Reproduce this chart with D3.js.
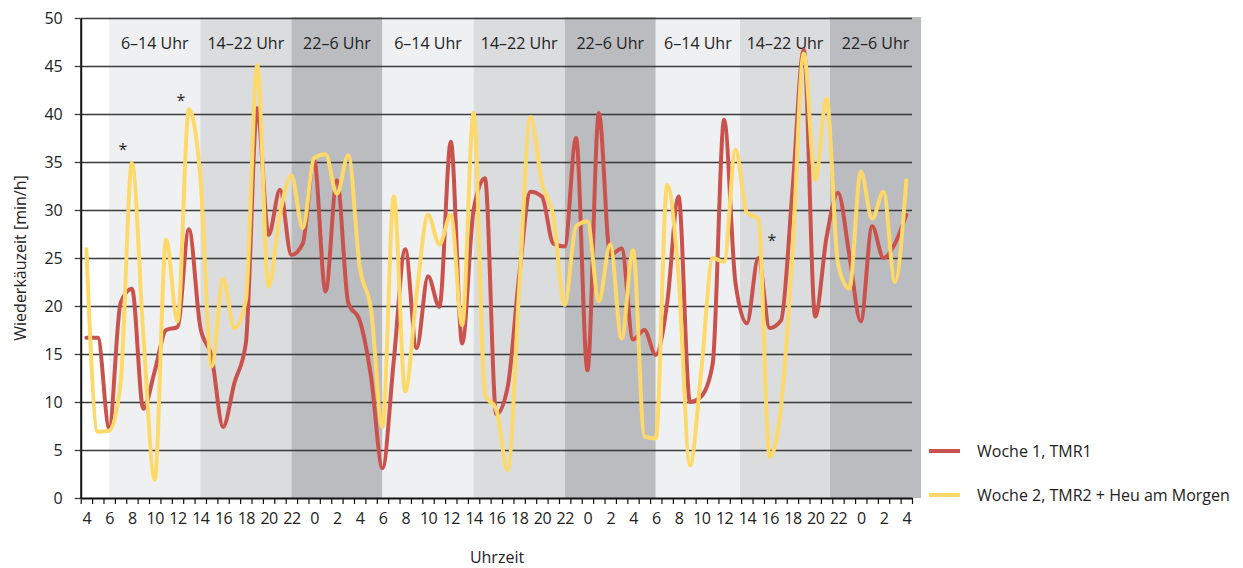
<!DOCTYPE html>
<html lang="de">
<head>
  <meta charset="UTF-8">
  <title>Wiederkäuzeit</title>
  <script src="https://d3js.org/d3.v7.min.js"></script>
  <style>
    body { margin: 0; background: #fff; font-family: "Open Sans", sans-serif; }
    .tick text { font-family: "Open Sans", sans-serif; fill: #222; }
    .line { fill: none; stroke-width: 4px; stroke-linejoin: round; stroke-linecap: round; }
  </style>
</head>
<body>
  <svg id="chart" width="1243" height="568"></svg>
  <script>
    // hour of day for every category (hourly, 3 days, 4 Uhr to 4 Uhr)
    const hours = [4,5,6,7,8,9,10,11,12,13,14,15,16,17,18,19,20,21,22,23,0,1,2,3,
                   4,5,6,7,8,9,10,11,12,13,14,15,16,17,18,19,20,21,22,23,0,1,2,3,
                   4,5,6,7,8,9,10,11,12,13,14,15,16,17,18,19,20,21,22,23,0,1,2,3,4];

    const woche1 = [16.7,16.7,7.3,20.3,21.8,9.3,13.2,17.5,17.8,28,17.8,14.7,7.4,12,16.1,40.6,27.4,32.1,
                    25.3,26.5,35.2,21.5,33.1,20.3,18.5,12.6,3.1,14.4,25.9,15.6,23.1,19.9,37.1,16.1,30,33.3,
                    8.7,11.6,23.1,31.9,31.4,26.5,26.2,37.5,13.3,40.1,25.3,26,16.5,17.5,14.9,20.3,31.4,10,
                    10.6,14,39.4,22.4,18.2,25,17.7,18.5,32,46.7,18.9,27.2,31.8,25.3,18.4,28.3,25,26.5,29.5];

    const woche2 = [25.9,6.9,7,11.9,34.9,17,1.9,26.9,18.4,40.5,33.5,13.7,22.8,17.7,20.6,45.1,22,29.6,
                    33.6,28.1,35.4,35.8,31.7,35.7,24.1,19.6,7.4,31.4,11.1,21.3,29.5,26.4,29.5,18,40.1,10.8,
                    9.2,2.9,21.7,39.7,32.8,29.3,20.1,28.3,28.8,20.5,26.4,16.6,25.8,6.4,6.2,32.6,23.1,3.4,
                    13.3,25,24.6,36.3,29.7,29.1,4.3,9.5,25.5,46.3,33.1,41.6,24.4,21.8,34,29.1,31.9,22.5,33.1];

    const seriesNames = ["Woche 1, TMR1", "Woche 2, TMR2 + Heu am Morgen"];
    const seriesColors = ["#c9534c", "#fdd96a"];

    // shift bands (category index where a band starts / ends)
    const bandLabels = ["6–14 Uhr", "14–22 Uhr", "22–6 Uhr", "6–14 Uhr", "14–22 Uhr", "22–6 Uhr", "6–14 Uhr", "14–22 Uhr", "22–6 Uhr"];
    const bandStart = [2, 10, 18, 26, 34, 42, 50, 57.4, 65.3];
    const bandEnd = [10, 18, 26, 34, 42, 50, 57.4, 65.3, 73.3];
    const bandFill = ["#eff0f2", "#dbdcde", "#bbbcbf"];

    const yTicks = [0, 5, 10, 15, 20, 25, 30, 35, 40, 45, 50];

    // significance markers: [category index, value]
    const stars = [[3.2, 36.7], [8.3, 41.8], [60.2, 27.2]];

    const margin = { left: 80.7, top: 18, right: 912, bottom: 498 };
    const svg = d3.select("#chart");

    const x = d3.scaleLinear().domain([-0.5, 72.5]).range([margin.left, margin.right]);
    const y = d3.scaleLinear().domain([0, 50]).range([margin.bottom, margin.top]);

    // shift bands
    svg.append("g").selectAll("rect")
      .data(bandLabels)
      .join("rect")
      .attr("x", (d, i) => x(bandStart[i]))
      .attr("width", (d, i) => x(bandEnd[i]) - x(bandStart[i]))
      .attr("y", y(50) - 1)
      .attr("height", y(0) - y(50) + 1)
      .attr("fill", (d, i) => bandFill[i % 3]);

    svg.append("g").selectAll("text")
      .data(bandLabels)
      .join("text")
      .attr("x", (d, i) => (x(bandStart[i]) + x(bandEnd[i])) / 2)
      .attr("y", 49)
      .attr("text-anchor", "middle")
      .attr("font-size", "16px")
      .attr("fill", "#222")
      .text(d => d);

    // gridlines
    const grid = svg.append("g")
      .attr("transform", `translate(${margin.left},0)`)
      .call(d3.axisLeft(y).tickValues(yTicks.slice(1)).tickSize(-(margin.right - margin.left)).tickFormat(""));
    grid.select(".domain").remove();
    grid.selectAll("line").attr("stroke", "#3a3a3a").attr("stroke-width", 1.3);

    // y axis
    const yAxis = svg.append("g")
      .attr("transform", `translate(${margin.left},0)`)
      .call(d3.axisLeft(y).tickValues(yTicks).tickSize(6).tickSizeOuter(0).tickPadding(12));
    yAxis.select(".domain").attr("stroke", "#111").attr("stroke-width", 2);
    yAxis.selectAll("line").attr("stroke", "#3a3a3a").attr("stroke-width", 1.3);
    yAxis.selectAll("text").attr("font-size", "16px");

    // x axis: hourly tick marks between categories
    const xTicks = svg.append("g")
      .attr("transform", `translate(0,${margin.bottom})`)
      .call(d3.axisBottom(x).tickValues(d3.range(-0.5, 73, 1)).tickSize(6).tickSizeOuter(0).tickFormat(""));
    xTicks.select(".domain").attr("stroke", "#111").attr("stroke-width", 2);
    xTicks.selectAll("line").attr("stroke", "#111").attr("stroke-width", 1.2);

    const xLabels = svg.append("g")
      .attr("transform", `translate(0,${margin.bottom})`)
      .call(d3.axisBottom(x).tickValues(d3.range(0, 73, 2)).tickSize(0).tickPadding(15)
        .tickFormat(i => hours[i]));
    xLabels.select(".domain").remove();
    xLabels.selectAll("text").attr("font-size", "16px").attr("letter-spacing", "-0.5px");

    // lines
    const line = d3.line()
      .x((d, i) => x(i))
      .y(d => y(d))
      .curve(d3.curveMonotoneX);

    [woche1, woche2].forEach((s, k) => {
      svg.append("path")
        .attr("class", "line")
        .attr("d", line(s))
        .attr("stroke", seriesColors[k]);
    });

    svg.append("g").selectAll("text")
      .data(stars)
      .join("text")
      .attr("x", d => x(d[0]))
      .attr("y", d => y(d[1]) + 9)
      .attr("text-anchor", "middle")
      .attr("font-size", "16px")
      .attr("fill", "#222")
      .text("*");

    // axis titles
    svg.append("text")
      .attr("x", 497)
      .attr("y", 563)
      .attr("text-anchor", "middle")
      .attr("font-size", "16px")
      .attr("fill", "#222")
      .text("Uhrzeit");

    svg.append("text")
      .attr("transform", `translate(26,${(margin.top + margin.bottom) / 2}) rotate(-90)`)
      .attr("text-anchor", "middle")
      .attr("font-size", "16px")
      .attr("fill", "#222")
      .text("Wiederkäuzeit [min/h]");

    // legend
    const legend = svg.append("g").attr("transform", "translate(929,451)");
    seriesNames.forEach((name, i) => {
      const row = legend.append("g").attr("transform", `translate(0,${i * 44})`);
      row.append("line")
        .attr("x1", 0).attr("x2", 31)
        .attr("stroke", seriesColors[i])
        .attr("stroke-width", 4);
      row.append("text")
        .attr("x", 48)
        .attr("y", 6)
        .attr("font-size", "16px")
        .attr("fill", "#222")
        .text(name);
    });
  </script>
</body>
</html>
